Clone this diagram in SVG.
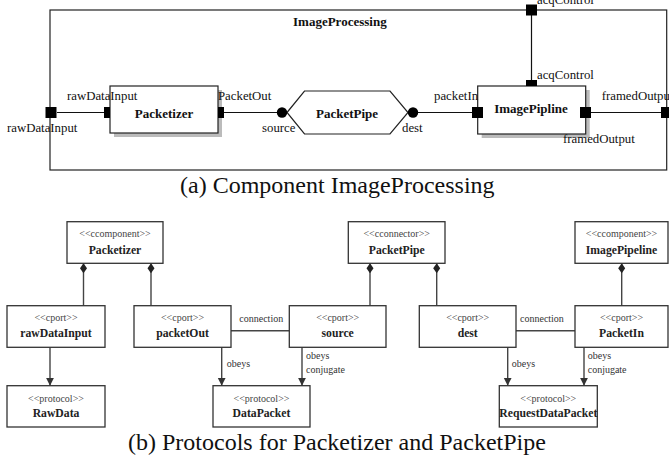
<svg xmlns="http://www.w3.org/2000/svg" width="669" height="463" viewBox="0 0 669 463">
  <defs>
    <style>
      text { font-family: 'Liberation Serif', 'DejaVu Serif', serif; }
      .lbl { font-size: 12.8px; fill: #111; }
      .nm { font-size: 13px; font-weight: bold; fill: #111; }
      .cap { font-size: 24px; fill: #111; }
      .st { font-size: 10px; fill: #444; }
      .bn { font-size: 11.7px; font-weight: bold; fill: #222; }
      .sm { font-size: 10px; fill: #333; }
      .frame { fill: none; stroke: #222; stroke-width: 1.2; }
      .box { fill: #fff; stroke: #222; stroke-width: 1.2; }
      .shadow { fill: #bbb; }
      .port { fill: #000; }
      .wire { stroke: #111; stroke-width: 1.2; fill: none; }
      .cls { fill: #fff; stroke: #333; stroke-width: 1.3; }
      .link { stroke: #444; stroke-width: 1.4; fill: none; }
    </style>
    <marker id="arrow" viewBox="0 0 8 12" refX="8" refY="6" markerWidth="8" markerHeight="12" markerUnits="userSpaceOnUse" orient="auto">
      <path d="M0,2 L8,6 L0,10 Z" fill="#333"/>
    </marker>
    <marker id="diamond" viewBox="0 0 10 8" refX="0" refY="4" markerWidth="10" markerHeight="8" markerUnits="userSpaceOnUse" orient="auto">
      <path d="M0,4 L5,0.5 L10,4 L5,7.5 Z" fill="#222"/>
    </marker>
  </defs>

  <!-- (a) composite structure of ImageProcessing -->
  <g id="imageProcessing">
    <rect class="frame" x="50" y="10" width="616.7" height="160"/>
    <text class="nm" x="293" y="26">ImageProcessing</text>
  </g>

  <g id="connectors-a">
    <line class="wire" x1="57" y1="112.5" x2="104" y2="112.5"/>
    <line class="wire" x1="224" y1="112.5" x2="282" y2="112.5"/>
    <line class="wire" x1="413" y1="112.5" x2="472" y2="112.5"/>
    <line class="wire" x1="591" y1="112.5" x2="661" y2="112.5"/>
    <line class="wire" x1="531.5" y1="15" x2="531.5" y2="80"/>
  </g>

  <g id="port-rawDataInput-outer">
    <rect class="port" x="45.5" y="107" width="11" height="11"/>
    <text class="lbl" x="7" y="132">rawDataInput</text>
  </g>

  <g id="packetizer">
    <rect class="shadow" x="114" y="90" width="108" height="47"/>
    <rect class="box" x="110" y="86" width="108" height="47"/>
    <rect class="port" x="104" y="107" width="6" height="11"/>
    <rect class="port" x="218" y="107" width="6" height="11"/>
    <text class="nm" x="164" y="118" text-anchor="middle">Packetizer</text>
    <text class="lbl" x="67" y="100">rawDataInput</text>
    <text class="lbl" x="218" y="100">PacketOut</text>
  </g>

  <g id="packetPipe">
    <polygon class="box" points="287,112.5 304.5,91 390,91 408,112.5 390,134 304.5,134"/>
    <circle class="port" cx="282" cy="112.5" r="5.2"/>
    <circle class="port" cx="413" cy="112.5" r="5.2"/>
    <text class="nm" x="347" y="118" text-anchor="middle">PacketPipe</text>
    <text class="lbl" x="262" y="132">source</text>
    <text class="lbl" x="402" y="132">dest</text>
  </g>

  <g id="imagePipline">
    <rect class="shadow" x="481.7" y="90" width="108" height="48"/>
    <rect class="box" x="477.7" y="86" width="108" height="48"/>
    <rect class="port" x="472" y="107" width="11" height="11"/>
    <rect class="port" x="580" y="107" width="11" height="11"/>
    <rect class="port" x="526" y="80" width="11" height="6"/>
    <text class="nm" x="531" y="113" text-anchor="middle">ImagePipline</text>
    <text class="lbl" x="434" y="100">packetIn</text>
    <text class="lbl" x="537" y="79">acqControl</text>
    <text class="lbl" x="601.7" y="100">framedOutput</text>
    <text class="lbl" x="563" y="143">framedOutput</text>
  </g>

  <g id="port-acqControl-outer">
    <rect class="port" x="526" y="4.5" width="11" height="11"/>
    <text class="lbl" x="537" y="4">acqControl</text>
  </g>

  <g id="port-framedOutput-outer">
    <rect class="port" x="661" y="107" width="11" height="11"/>
  </g>

  <text class="cap" x="180" y="193">(a) Component ImageProcessing</text>

  <!-- (b) protocol associations -->
  <g id="connectors-b">
    <line class="link" x1="83.5" y1="263.3" x2="83.5" y2="305.7" marker-start="url(#diamond)"/>
    <line class="link" x1="151" y1="263.3" x2="151" y2="305.7" marker-start="url(#diamond)"/>
    <line class="link" x1="370" y1="263.3" x2="370" y2="305.7" marker-start="url(#diamond)"/>
    <line class="link" x1="436.7" y1="263.3" x2="436.7" y2="305.7" marker-start="url(#diamond)"/>
    <line class="link" x1="621.7" y1="263.3" x2="621.7" y2="305.7" marker-start="url(#diamond)"/>
    <line class="link" x1="231" y1="330.7" x2="289.3" y2="330.7"/>
    <line class="link" x1="516" y1="330.7" x2="575" y2="330.7"/>
    <line class="link" x1="50" y1="347.3" x2="50" y2="385.7" marker-end="url(#arrow)"/>
    <line class="link" x1="221.7" y1="347.3" x2="221.7" y2="385.7" marker-end="url(#arrow)"/>
    <line class="link" x1="302" y1="347.3" x2="302" y2="385.7" marker-end="url(#arrow)"/>
    <line class="link" x1="507.7" y1="347.3" x2="507.7" y2="385.7" marker-end="url(#arrow)"/>
    <line class="link" x1="584" y1="347.3" x2="584" y2="385.7" marker-end="url(#arrow)"/>
    <text class="sm" x="239.3" y="321.7">connection</text>
    <text class="sm" x="520" y="321.7">connection</text>
    <text class="sm" x="226.7" y="366.7">obeys</text>
    <text class="sm" x="306" y="359.3">obeys</text>
    <text class="sm" x="306" y="372.7">conjugate</text>
    <text class="sm" x="511.7" y="366.7">obeys</text>
    <text class="sm" x="587.7" y="359.3">obeys</text>
    <text class="sm" x="587.7" y="372.7">conjugate</text>
  </g>

  <g id="cls-packetizer">
    <rect class="cls" x="67" y="221.7" width="96" height="41.6"/>
    <text class="st" x="115" y="237" text-anchor="middle">&lt;&lt;ccomponent&gt;&gt;</text>
    <text class="bn" x="115" y="254" text-anchor="middle">Packetizer</text>
  </g>

  <g id="cls-packetPipe">
    <rect class="cls" x="348.3" y="221.7" width="96.7" height="41.6"/>
    <text class="st" x="396.7" y="237" text-anchor="middle">&lt;&lt;cconnector&gt;&gt;</text>
    <text class="bn" x="396.7" y="254" text-anchor="middle">PacketPipe</text>
  </g>

  <g id="cls-imagePipeline">
    <rect class="cls" x="575" y="221.7" width="93" height="41.6"/>
    <text class="st" x="621.5" y="237" text-anchor="middle">&lt;&lt;ccomponent&gt;&gt;</text>
    <text class="bn" x="621.5" y="254" text-anchor="middle">ImagePipeline</text>
  </g>

  <g id="cls-rawDataInput">
    <rect class="cls" x="7" y="305.7" width="98" height="41.6"/>
    <text class="st" x="56" y="321" text-anchor="middle">&lt;&lt;cport&gt;&gt;</text>
    <text class="bn" x="56" y="337" text-anchor="middle">rawDataInput</text>
  </g>

  <g id="cls-packetOut">
    <rect class="cls" x="134" y="305.7" width="97" height="41.6"/>
    <text class="st" x="182.5" y="321" text-anchor="middle">&lt;&lt;cport&gt;&gt;</text>
    <text class="bn" x="182.5" y="337" text-anchor="middle">packetOut</text>
  </g>

  <g id="cls-source">
    <rect class="cls" x="289.3" y="305.7" width="96.7" height="41.6"/>
    <text class="st" x="337.7" y="321" text-anchor="middle">&lt;&lt;cport&gt;&gt;</text>
    <text class="bn" x="337.7" y="337" text-anchor="middle">source</text>
  </g>

  <g id="cls-dest">
    <rect class="cls" x="419.3" y="305.7" width="96.7" height="41.6"/>
    <text class="st" x="467.7" y="321" text-anchor="middle">&lt;&lt;cport&gt;&gt;</text>
    <text class="bn" x="467.7" y="337" text-anchor="middle">dest</text>
  </g>

  <g id="cls-packetIn">
    <rect class="cls" x="575" y="305.7" width="93" height="41.6"/>
    <text class="st" x="621.5" y="321" text-anchor="middle">&lt;&lt;cport&gt;&gt;</text>
    <text class="bn" x="621.5" y="337" text-anchor="middle">PacketIn</text>
  </g>

  <g id="cls-rawData">
    <rect class="cls" x="7" y="385.7" width="98" height="41.3"/>
    <text class="st" x="56" y="401.7" text-anchor="middle">&lt;&lt;protocol&gt;&gt;</text>
    <text class="bn" x="56" y="417" text-anchor="middle">RawData</text>
  </g>

  <g id="cls-dataPacket">
    <rect class="cls" x="213" y="385.7" width="97" height="41.3"/>
    <text class="st" x="261.5" y="401.7" text-anchor="middle">&lt;&lt;protocol&gt;&gt;</text>
    <text class="bn" x="261.5" y="417" text-anchor="middle">DataPacket</text>
  </g>

  <g id="cls-requestDataPacket">
    <rect class="cls" x="499.3" y="385.7" width="98" height="41.3"/>
    <text class="st" x="548.3" y="401.7" text-anchor="middle">&lt;&lt;protocol&gt;&gt;</text>
    <text class="bn" x="548.3" y="417" text-anchor="middle">RequestDataPacket</text>
  </g>

  <text class="cap" x="128" y="450">(b) Protocols for Packetizer and PacketPipe</text>
</svg>
